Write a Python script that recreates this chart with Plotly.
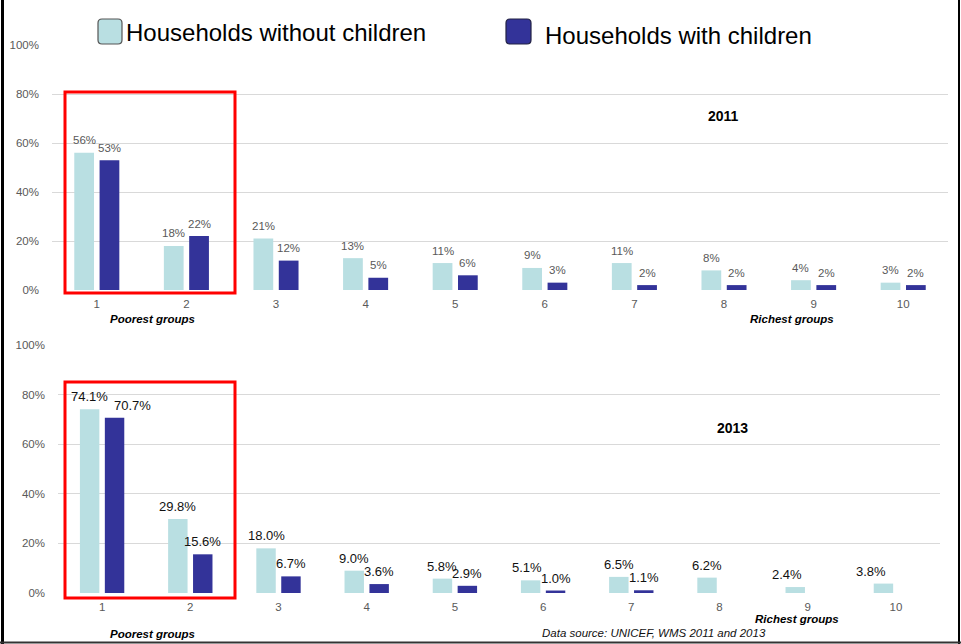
import plotly.graph_objects as go

# Income decile groups (1 = poorest, 10 = richest)
groups = [1, 2, 3, 4, 5, 6, 7, 8, 9, 10]
series_names = ["Households without children", "Households with children"]

# Share of households by decile, 2011 (%)
no_children_2011 = [56, 18, 21, 13, 11, 9, 11, 8, 4, 3]
with_children_2011 = [53, 22, 12, 5, 6, 3, 2, 2, 2, 2]

# Share of households by decile, 2013 (%)
no_children_2013 = [74.1, 29.8, 18.0, 9.0, 5.8, 5.1, 6.5, 6.2, 2.4, 3.8]
with_children_2013 = [70.7, 15.6, 6.7, 3.6, 2.9, 1.0, 1.1, None, None, None]

y_ticks = [0, 20, 40, 60, 80, 100]
y_tick_text = [f"{v}%" for v in y_ticks]

LIGHT = "#B9DFE2"
DARK = "#333399"
GRID = "#D9D9D9"
GRAY_TXT = "#595959"
FONT = "Arial, Liberation Sans, sans-serif"

W, H = 961, 644
BARGAP, GROUPGAP = 0.435, 0.22
# centre of each bar relative to its group, in category units
HALF_SLOT = (1 - BARGAP) / 4

# horizontal nudges (px) for a few 2013 value labels that sit off-centre
NUDGE_LIGHT_2013 = {5: -4, 8: -8, 9: -12}
NUDGE_DARK_2013 = {0: 18}


def px_x(p):
    return p / W


def px_y(p):
    return 1 - p / H


fig = go.Figure()

panels = [
    ("x", "y", no_children_2011, with_children_2011),
    ("x2", "y2", no_children_2013, with_children_2013),
]
for xa, ya, light_vals, dark_vals in panels:
    fig.add_trace(go.Bar(x=groups, y=light_vals, name=series_names[0],
                         marker=dict(color=LIGHT, line=dict(width=0)),
                         xaxis=xa, yaxis=ya))
    fig.add_trace(go.Bar(x=groups, y=dark_vals, name=series_names[1],
                         marker=dict(color=DARK, line=dict(width=0)),
                         xaxis=xa, yaxis=ya))

x_common = dict(showline=False, zeroline=False, ticks="", showgrid=False,
                tickfont=dict(size=11.5, color=GRAY_TXT, family=FONT),
                range=[0.5, 10.5], tickvals=groups, ticklabelstandoff=5)
y_common = dict(showline=False, zeroline=False, ticks="", showgrid=True,
                gridcolor=GRID, gridwidth=1, range=[0, 100],
                tickvals=y_ticks, ticktext=y_tick_text, ticklabelstandoff=12,
                tickfont=dict(size=11.5, color=GRAY_TXT, family=FONT))

fig.update_layout(
    width=W, height=H,
    margin=dict(l=0, r=0, t=0, b=0, pad=0, autoexpand=False),
    paper_bgcolor="white", plot_bgcolor="white",
    showlegend=False,
    barmode="group", bargap=BARGAP, bargroupgap=GROUPGAP,
    font=dict(family=FONT),
    xaxis=dict(domain=[px_x(52), px_x(948)], anchor="y", **x_common),
    yaxis=dict(domain=[px_y(290), px_y(45)], anchor="x", **y_common),
    xaxis2=dict(domain=[px_x(58), px_x(940)], anchor="y2", **x_common),
    yaxis2=dict(domain=[px_y(593), px_y(345)], anchor="x2", **y_common),
)


def rounded_box(x0, y0, x1, y1, r):
    """Rounded rectangle path in paper coordinates, from pixel corners."""
    rx, ry = r / W, r / H
    X0, X1 = px_x(x0), px_x(x1)
    Y0, Y1 = px_y(y1), px_y(y0)
    return (f"M {X0 + rx},{Y0} L {X1 - rx},{Y0} Q {X1},{Y0} {X1},{Y0 + ry} "
            f"L {X1},{Y1 - ry} Q {X1},{Y1} {X1 - rx},{Y1} "
            f"L {X0 + rx},{Y1} Q {X0},{Y1} {X0},{Y1 - ry} "
            f"L {X0},{Y0 + ry} Q {X0},{Y0} {X0 + rx},{Y0} Z")


def px_rect(x0, y0, x1, y1, color, width):
    return dict(type="rect", xref="paper", yref="paper",
                x0=px_x(x0), x1=px_x(x1), y0=px_y(y1), y1=px_y(y0),
                line=dict(color=color, width=width),
                fillcolor="rgba(0,0,0,0)")


shapes = [
    # red highlight around the two poorest groups in each panel
    px_rect(65, 92, 235, 293, "#FF0000", 3),
    px_rect(65, 382, 235, 598, "#FF0000", 3),
    # legend swatches
    dict(type="path", xref="paper", yref="paper",
         path=rounded_box(98, 19, 122, 44, 4),
         fillcolor=LIGHT, line=dict(color="#555555", width=1.2)),
    dict(type="path", xref="paper", yref="paper",
         path=rounded_box(506, 19, 531, 44, 4),
         fillcolor=DARK, line=dict(color="#222244", width=1.2)),
    # frame lines on the left, right and bottom edges
    dict(type="line", xref="paper", yref="paper",
         x0=px_x(2.5), x1=px_x(2.5), y0=0, y1=1,
         line=dict(color="black", width=3)),
    dict(type="line", xref="paper", yref="paper",
         x0=px_x(959), x1=px_x(959), y0=0, y1=1,
         line=dict(color="black", width=2)),
    dict(type="line", xref="paper", yref="paper",
         x0=0, x1=1, y0=px_y(642.5), y1=px_y(642.5),
         line=dict(color="#333333", width=2)),
]
fig.update_layout(shapes=shapes)

annotations = [
    dict(text=series_names[0], x=px_x(124), y=px_y(33), xanchor="left",
         font=dict(size=24, color="black")),
    dict(text=series_names[1], x=px_x(543), y=px_y(35), xanchor="left",
         font=dict(size=24, color="black")),
    dict(text="<b>2011</b>", x=px_x(723), y=px_y(116), font=dict(size=14, color="black")),
    dict(text="<b>2013</b>", x=px_x(732), y=px_y(428), font=dict(size=14, color="black")),
    dict(text="<b><i>Poorest groups</i></b>", x=px_x(152), y=px_y(319),
         font=dict(size=11.5, color="black")),
    dict(text="<b><i>Richest groups</i></b>", x=px_x(792), y=px_y(319),
         font=dict(size=11.5, color="black")),
    dict(text="<b><i>Poorest groups</i></b>", x=px_x(152), y=px_y(634),
         font=dict(size=11.5, color="black")),
    dict(text="<b><i>Richest groups</i></b>", x=px_x(797), y=px_y(619),
         font=dict(size=11.5, color="black")),
    dict(text="<i>Data source: UNICEF, WMS 2011 and 2013</i>", x=px_x(540),
         y=px_y(633), xanchor="left", font=dict(size=11.5, color="#111111")),
]
for a in annotations:
    a["xref"] = "paper"
    a["yref"] = "paper"
    a.setdefault("xanchor", "center")
    a["yanchor"] = "middle"


def value_labels(values, side, xa, ya, fmt, size, color, nudges):
    out = []
    for i, (g, v) in enumerate(zip(groups, values)):
        if v is None:
            continue
        out.append(dict(text=format(v, fmt) + "%", x=g + side * HALF_SLOT, y=v,
                        xref=xa, yref=ya, xanchor="center", yanchor="middle",
                        xshift=nudges.get(i, 0), yshift=12.5,
                        font=dict(size=size, color=color)))
    return out


annotations += value_labels(no_children_2011, -1, "x", "y", ".0f", 11.5, GRAY_TXT, {})
annotations += value_labels(with_children_2011, 1, "x", "y", ".0f", 11.5, GRAY_TXT, {})
annotations += value_labels(no_children_2013, -1, "x2", "y2", ".1f", 13, "#111111",
                            NUDGE_LIGHT_2013)
annotations += value_labels(with_children_2013, 1, "x2", "y2", ".1f", 13, "#111111",
                            NUDGE_DARK_2013)

for a in annotations:
    a["showarrow"] = False
    a["font"]["family"] = FONT
fig.update_layout(annotations=annotations)

fig.write_html("out.html")
